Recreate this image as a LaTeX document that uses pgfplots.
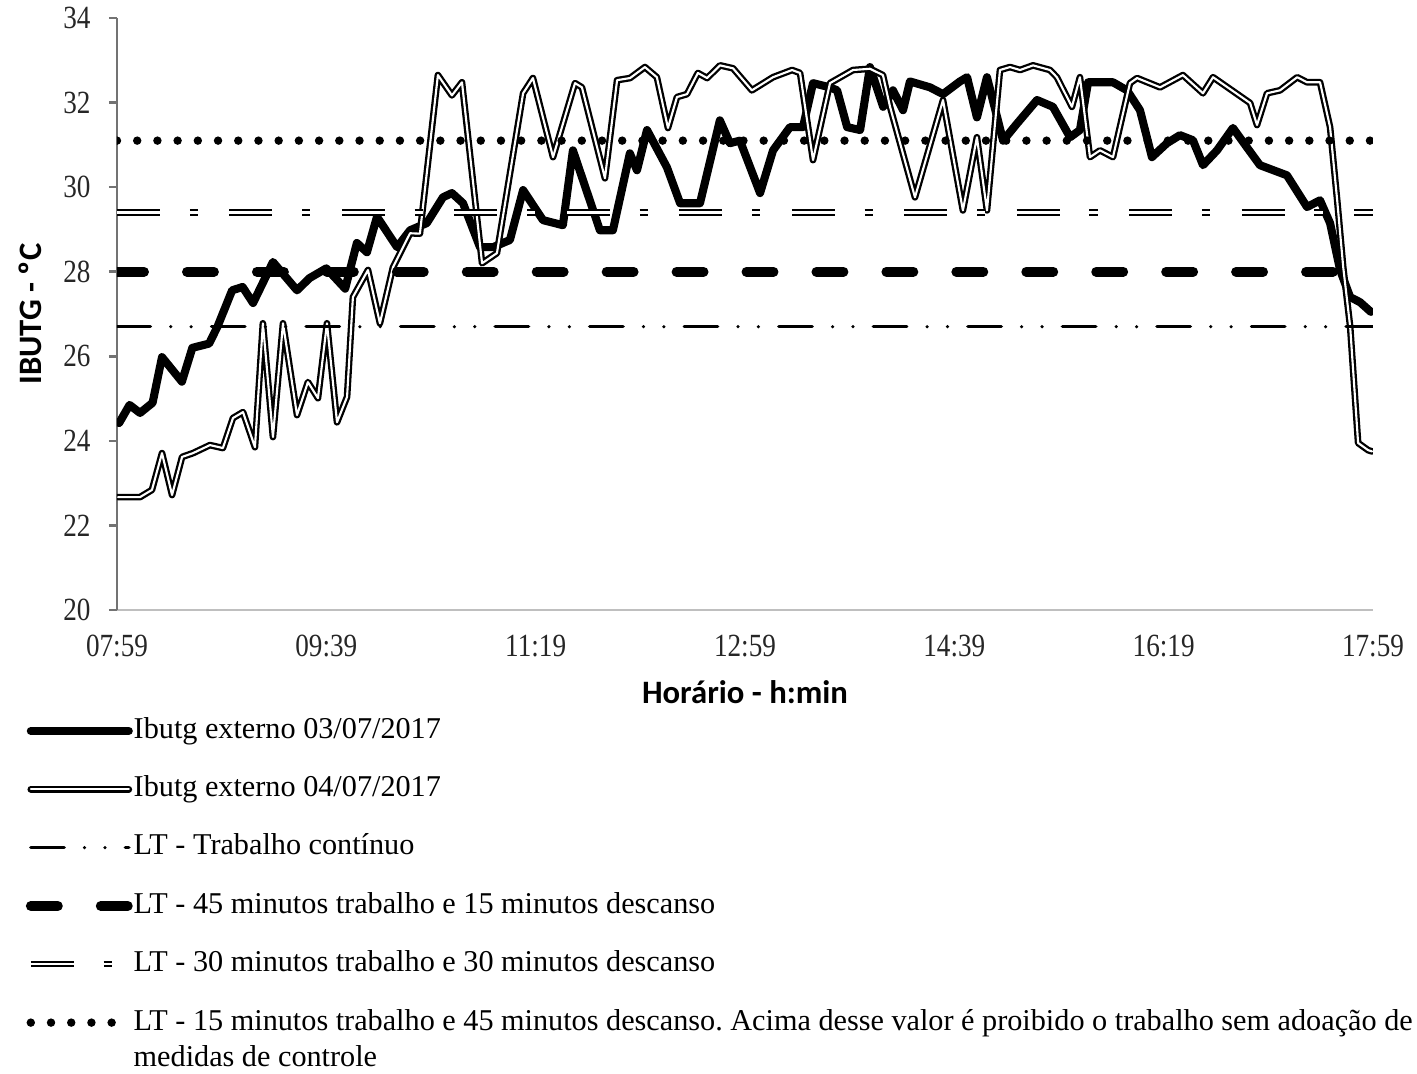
\documentclass[border=0pt]{standalone}
\usepackage{fontspec}
\setmainfont{Liberation Serif}
\newfontfamily\tickfont[FakeStretch=0.84]{Liberation Serif}
\newfontfamily\labfont{Carlito}
\usepackage{pgfplots}
\pgfplotsset{compat=1.18}
\frenchspacing

\begin{document}
\begin{tikzpicture}
\path[use as bounding box] (-1.17,-4.63) rectangle (13.0,6.10);
\begin{axis}[
    scale only axis,
    width=12.56cm, height=5.92cm,
    xmin=0, xmax=600, ymin=20, ymax=34,
    xtick={0,100,...,600},
    xticklabels={07:59,09:39,11:19,12:59,14:39,16:19,17:59},
    ytick={20,22,...,34},
    axis x line*=bottom, axis y line*=left,
    x axis line style={draw=black!25, line width=0.7pt},
    y axis line style={draw=black!55, line width=0.7pt},
    xtick style={draw=none},
    ytick style={draw=black!55, line width=0.7pt},
    tick align=outside, major tick length=0.08cm,
    ticklabel style={font=\fontsize{9.2}{11}\tickfont, text=black!85},
    /pgf/number format/assume math mode=true,
    xticklabel style={anchor=center, yshift=-0.28cm},
    yticklabel style={xshift=-0.06cm},
    xlabel={Horário - h:min}, ylabel={IBUTG - ºC},
    label style={font=\fontsize{9.3}{11}\labfont\bfseries},
    xlabel style={at={(axis description cs:0.5,-0.1385)}, anchor=center},
    ylabel style={at={(axis description cs:-0.0693,0.5)}, anchor=center},
    legend style={at={(axis description cs:-0.0815,-0.168)}, anchor=north west,
        draw=none, fill=none, font=\fontsize{8.6}{10.4}\selectfont,
        row sep=8.8pt, column sep=0pt,
        nodes={inner sep=0pt, text height=6pt, text depth=1.8pt}},
    legend cell align=left,
    legend image code/.code={\draw[#1] (0cm,0cm) -- (0.98cm,0cm);},
    every axis plot/.append style={line join=round},
]
% Ibutg externo 03/07/2017
\addplot[black, line width=2.3pt, line cap=round] coordinates {
(1,24.42)(6,24.85)(11,24.66)(17,24.9)(21.5,25.98)(31,25.4)(36,26.2)(44,26.3)(48,26.7)(55,27.56)
(60,27.64)(65,27.26)(74.5,28.23)(86,27.56)(92,27.85)(100,28.08)(109,27.6)(114.6,28.68)(119.4,28.46)(124.2,29.3)
(133.8,28.58)(140,28.98)(148,29.15)(155.7,29.76)(160,29.86)(165.3,29.62)(173.4,28.58)(179.6,28.58)(187.7,28.75)(194,29.93)
(203.5,29.22)(213,29.1)(217.8,30.87)(230.7,28.98)(236.9,28.98)(245,30.8)(248.4,30.4)(253.2,31.35)(262.7,30.47)(269,29.62)
(278.5,29.62)(288,31.58)(292.8,31.04)(297.6,31.1)(307.2,29.86)(313.4,30.87)(321.5,31.42)(327.7,31.42)(332.5,32.46)(340.6,32.36)
(344,32.29)(348.8,31.42)(355,31.35)(359.7,32.84)(366,31.9)(370.7,32.29)(375.5,31.82)(378.8,32.5)(388.4,32.36)(394.6,32.2)
(402.7,32.5)(406.1,32.6)(410.8,31.65)(415.6,32.6)(423.3,31.1)(429.9,31.5)(439.5,32.06)(447.1,31.9)(455.3,31.18)(460,31.35)
(463.9,32.48)(475.8,32.48)(482.5,32.29)(488.7,31.82)(494.4,30.71)(501.6,31.04)(507.8,31.23)(514,31.11)(518.8,30.52)(525.5,30.87)
(533.1,31.4)(539.8,30.94)(546,30.52)(558.9,30.28)(568.5,29.53)(574.7,29.69)(579.5,29.15)(584.3,28.04)(589.1,27.4)(593.8,27.28)
(599,27.05)
};
\addlegendentry{Ibutg externo 03/07/2017}
% Ibutg externo 04/07/2017
\addplot[black, line width=0.65pt, double=white, double distance=0.6pt, line cap=round] coordinates {
(0.5,22.67)(11,22.67)(16.7,22.84)(21.5,23.71)(26.3,22.72)(31.1,23.62)(36.3,23.71)(44.4,23.9)(50.6,23.83)(55.4,24.54)
(60.2,24.68)(65.9,23.85)(69.7,26.78)(74.5,24.09)(79.3,26.78)(86,24.61)(91.2,25.39)(96,25.01)(100.3,26.78)(105.1,24.44)
(109.9,25.04)(112.7,27.4)(119.9,28.04)(125.6,26.78)(131.8,28.1)(140,28.91)(144.7,28.9)(153.3,32.65)(160,32.17)(164.8,32.48)
(174.4,28.2)(181.5,28.44)(194,32.22)(198.7,32.58)(208.3,30.71)(218.8,32.46)(222.1,32.36)(233.1,30.21)(238.9,32.53)(245.1,32.58)
(252.2,32.84)(257.9,32.6)(263.2,31.4)(267.5,32.13)(272.3,32.2)(277.5,32.7)(281.9,32.58)(288.1,32.88)(294.3,32.81)(303.3,32.29)
(313.4,32.6)(322.5,32.77)(326.3,32.7)(332.5,30.64)(340.6,32.46)(351.6,32.77)(359.7,32.8)(365.9,32.65)(369.3,31.9)(381.2,29.76)
(394.6,32.06)(404.1,29.45)(410.8,31.18)(415.6,29.45)(421.8,32.77)(426.6,32.84)(431.4,32.77)(437.6,32.88)(445.7,32.77)(449,32.6)
(456.2,31.9)(460,32.6)(464.8,30.71)(469.6,30.87)(475.8,30.71)(483.9,32.46)(487.3,32.58)(498.3,32.36)(509.2,32.65)(518.8,32.22)
(523.6,32.6)(541.3,31.99)(544.6,31.47)(549.4,32.22)(555.6,32.29)(563.8,32.6)(568.5,32.48)(574.7,32.48)(579.5,31.42)(582.9,29.69)
(585.8,28.1)(589.1,26.7)(592.9,23.95)(597.7,23.78)(599.6,23.75)
};
\addlegendentry{Ibutg externo 04/07/2017}
% limits
\addplot[black, line width=1pt, line cap=round,
    dash pattern=on 9.5pt off 5.8pt on 0pt off 5.8pt on 0pt off 5.8pt] coordinates {(0,26.7)(600,26.7)};
\addlegendentry{LT - Trabalho contínuo}
\addplot[black, line width=2.8pt, line cap=round, dash pattern=on 7.7pt off 12.2pt] coordinates {(0,28)(600,28)};
\addlegendentry{LT - 45 minutos trabalho e 15 minutos descanso}
\addplot[black, line width=0.6pt, double=white, double distance=0.6pt,
    dash pattern=on 12.2pt off 8.5pt on 2.3pt off 9pt] coordinates {(0,29.4)(600,29.4)};
\addlegendentry{LT - 30 minutos trabalho e 30 minutos descanso}
\addplot[black, line width=2.4pt, line cap=round, dash pattern=on 0pt off 5.75pt] coordinates {(0,31.1)(600,31.1)};
\addlegendentry{\parbox[t]{13cm}{LT - 15 minutos trabalho e 45 minutos descanso. Acima desse valor é proibido o trabalho sem adoação de\\medidas de controle}}
\end{axis}
\end{tikzpicture}
\end{document}
